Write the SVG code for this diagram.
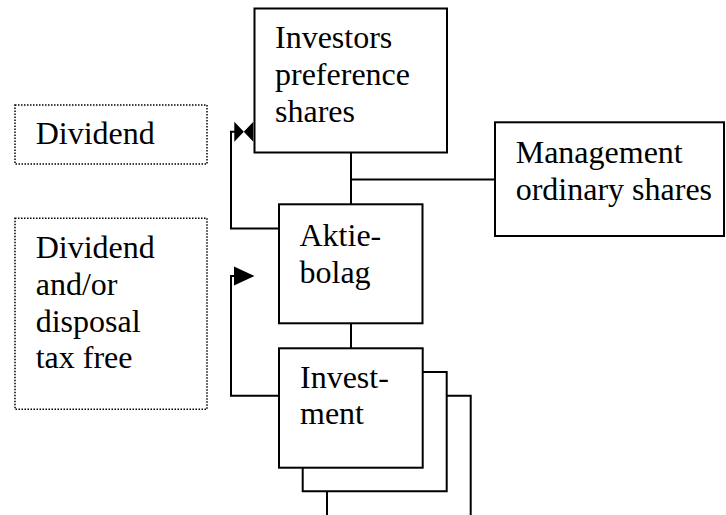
<svg xmlns="http://www.w3.org/2000/svg" width="726" height="515" viewBox="0 0 726 515">
<style>
.box{fill:#fff;stroke:#000;stroke-width:2}
.dot{fill:#fff;stroke:#000;stroke-width:1.5;stroke-dasharray:1.5 1.5}
.t{font-family:"Liberation Serif","Times New Roman",serif;font-size:32px;fill:#000}
.ln{fill:none;stroke:#000;stroke-width:2}
</style>
<rect width="726" height="515" fill="#fff"/>
<g id="connectors">
<path class="ln" d="M351,152.5 V204 M351,179.5 H495"/>
<path class="ln" d="M351,323 V348"/>
<path class="ln" d="M279,228.5 H231 V131.7 H236"/>
<polygon points="234.3,121.7 243.8,131.7 253.3,121.7 253.3,141.7 243.8,131.7 234.3,141.7" fill="#000"/>
<path class="ln" d="M279,395.7 H231 V276 H238"/>
<polygon points="234,266.5 254.5,276 234,285.5" fill="#000"/>
<path class="ln" d="M422.7,372 H446.7 V491.3 H302.7 V467.7"/>
<path class="ln" d="M446.7,395.7 H470.7 V515"/>
<path class="ln" d="M327,491.3 V515"/>
</g>
<g id="dividend">
<rect class="dot" x="15" y="105" width="192" height="59"/>
<text class="t" x="35.7" y="144.3">Dividend</text>
</g>
<g id="dividend-tax-free">
<rect class="dot" x="15" y="218.3" width="192" height="191"/>
<text class="t" x="35.7" y="258">Dividend</text>
<text class="t" x="35.7" y="294.8">and/or</text>
<text class="t" x="35.7" y="331.6">disposal</text>
<text class="t" x="35.7" y="368.4">tax free</text>
</g>
<g id="investors">
<rect class="box" x="254.5" y="8.5" width="192.5" height="144"/>
<text class="t" x="275" y="48.3">Investors</text>
<text class="t" x="275" y="85.1">preference</text>
<text class="t" x="275" y="121.9">shares</text>
</g>
<g id="management">
<rect class="box" x="495" y="122.3" width="229" height="113.7"/>
<text class="t" x="515.7" y="162.7">Management</text>
<text class="t" x="515.7" y="199.5">ordinary shares</text>
</g>
<g id="aktiebolag">
<rect class="box" x="279" y="204.3" width="143.5" height="119"/>
<text class="t" x="299.5" y="246">Aktie-</text>
<text class="t" x="299.5" y="282.7">bolag</text>
</g>
<g id="investment">
<rect class="box" x="279" y="348.3" width="143.7" height="119.4"/>
<text class="t" x="300" y="388.3">Invest-</text>
<text class="t" x="300" y="424.3">ment</text>
</g>
</svg>
